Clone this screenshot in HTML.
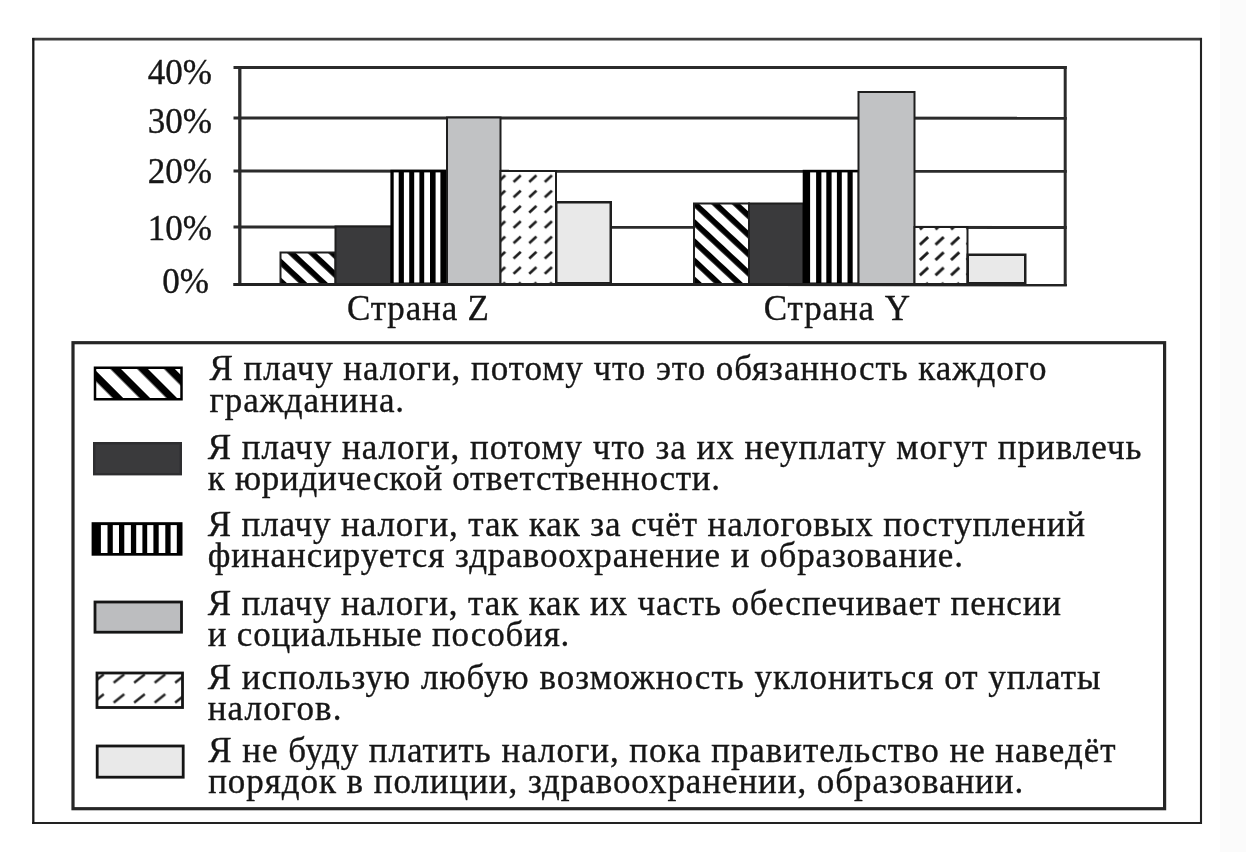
<!DOCTYPE html>
<html lang="ru">
<head>
<meta charset="utf-8">
<title>Chart</title>
<style>
  html, body { margin: 0; padding: 0; background: #ffffff; }
  body { width: 1246px; height: 852px; overflow: hidden; position: relative; }
  svg { position: absolute; left: 0; top: 0; display: block; filter: blur(0.4px); }
  text { font-family: "Liberation Serif", serif; fill: #161616; stroke: #161616; stroke-width: 0.35px; }
</style>
</head>
<body>
<svg width="1246" height="852" viewBox="0 0 1246 852">
  <defs>
    <!-- thick diagonal stripes "\" -->
    <pattern id="pDiagZ" patternUnits="userSpaceOnUse" width="20" height="14" y="-2.6" patternTransform="rotate(43)">
      <rect width="20" height="14" fill="#ffffff"/>
      <rect width="20" height="5.8" fill="#000"/>
    </pattern>
    <pattern id="pDiagY" patternUnits="userSpaceOnUse" width="20" height="14" y="8.36" patternTransform="rotate(43)">
      <rect width="20" height="14" fill="#ffffff"/>
      <rect width="20" height="5.8" fill="#000"/>
    </pattern>
    <!-- small dashes -->
    <pattern id="pDash" patternUnits="userSpaceOnUse" width="15.6" height="15.3" x="509.4" y="170.8">
      <rect width="15.6" height="15.3" fill="#ffffff"/>
      <path d="M4.2,11.2 L11.4,4.6" stroke="#1c1c1c" stroke-width="2.7"/>
    </pattern>
    <pattern id="pDash2" patternUnits="userSpaceOnUse" width="15.6" height="15.3" x="916.2" y="233.1">
      <rect width="15.6" height="15.3" fill="#ffffff"/>
      <path d="M3.7,11.5 L11.9,3.9" stroke="#1c1c1c" stroke-width="2.9"/>
    </pattern>
    <pattern id="pDiagL" patternUnits="userSpaceOnUse" width="20" height="19" y="4.3" patternTransform="rotate(45)">
      <rect width="20" height="19" fill="#ffffff"/>
      <rect width="20" height="7.5" fill="#000"/>
    </pattern>
    <pattern id="pDashL" patternUnits="userSpaceOnUse" width="20.5" height="19.9" x="108.75" y="688.45">
      <rect width="20.5" height="19.9" fill="#ffffff"/>
      <path d="M4.95,14.15 L15.55,5.75" stroke="#222" stroke-width="2.5"/>
    </pattern>
  </defs>

  <!-- right faint strip -->
  <rect x="1220" y="0" width="26" height="852" fill="#fbfbfb"/>

  <!-- outer frame -->
  <g fill="none">
    <line x1="32.2" y1="39.1" x2="1202" y2="39.1" stroke="#3c3c3c" stroke-width="2.8"/>
    <line x1="32.2" y1="823" x2="1202" y2="823" stroke="#222" stroke-width="2.2"/>
    <line x1="33.3" y1="38" x2="33.3" y2="824" stroke="#181818" stroke-width="2.3"/>
    <line x1="1201" y1="38" x2="1201" y2="824" stroke="#222" stroke-width="2.1"/>
  </g>

  <!-- plot area grid -->
  <g stroke="#2b2b2b" stroke-width="3" fill="none">
    <line x1="233.5" y1="67.4" x2="1066.8" y2="67.5"/>
    <line x1="233.5" y1="117.9" x2="1066.8" y2="118.2"/>
    <line x1="233.5" y1="171.1" x2="1066.8" y2="171.3"/>
    <line x1="233.5" y1="227.1" x2="1066.8" y2="227.4"/>
    <line x1="233.5" y1="284.4" x2="1066.8" y2="284.7"/>
    <line x1="239.8" y1="66" x2="239.8" y2="286" stroke-width="3.3"/>
    <line x1="1065.2" y1="66" x2="1065.2" y2="286"/>
  </g>

  <!-- bars: country Z -->
  <g stroke="#1e1e1e" stroke-width="2">
    <rect x="280.5" y="252.5" width="55" height="31.5" fill="url(#pDiagZ)"/>
    <rect x="335.5" y="226.5" width="56" height="57.5" fill="#3a3a3c"/>
    <g stroke="none"><rect x="390.4" y="169.8" width="57.3" height="114.2" fill="#000"/><rect x="393.7" y="172.4" width="5.0" height="110.1" fill="#fff"/><rect x="403.9" y="172.4" width="5.3" height="110.1" fill="#fff"/><rect x="414.2" y="172.4" width="5.2" height="110.1" fill="#fff"/><rect x="424.2" y="172.4" width="5.8" height="110.1" fill="#fff"/><rect x="435.6" y="172.4" width="4.8" height="110.1" fill="#fff"/></g>
    <rect x="447" y="117.5" width="53.5" height="166.5" fill="#c1c2c4"/>
    <rect x="500.5" y="171" width="55.5" height="113" fill="url(#pDash)"/>
    <rect x="556.25" y="202.25" width="54.5" height="81" fill="#e9e9e9" stroke-width="2.5"/>
  </g>
  <!-- bars: country Y -->
  <g stroke="#1e1e1e" stroke-width="2">
    <rect x="694" y="203.5" width="55" height="80.5" fill="url(#pDiagY)"/>
    <rect x="749" y="203.5" width="54.5" height="80.5" fill="#3a3a3c"/>
    <g stroke="none"><rect x="802.7" y="169.8" width="57.1" height="114.2" fill="#000"/><rect x="810.1" y="172.4" width="6.0" height="110.1" fill="#fff"/><rect x="821.4" y="172.4" width="4.9" height="110.1" fill="#fff"/><rect x="831.6" y="172.4" width="5.3" height="110.1" fill="#fff"/><rect x="841.8" y="172.4" width="5.7" height="110.1" fill="#fff"/><rect x="852.7" y="172.4" width="5.0" height="110.1" fill="#fff"/></g>
    <rect x="858.5" y="92" width="56" height="192" fill="#c1c2c4"/>
    <rect x="914.5" y="227" width="53" height="57" fill="url(#pDash2)"/>
    <rect x="967.75" y="254.75" width="57.5" height="28.5" fill="#e9e9e9" stroke-width="2.5"/>
  </g>

  <!-- baseline drawn over bars -->
  <line x1="233.5" y1="284.4" x2="1066.8" y2="284.7" stroke="#222" stroke-width="3"/>

  <!-- axis labels -->
  <g font-size="35" text-anchor="end">
    <text x="212" y="84">40%</text>
    <text x="212" y="132.8">30%</text>
    <text x="212" y="183">20%</text>
    <text x="212" y="240">10%</text>
    <text x="209" y="292.6">0%</text>
  </g>
  <g font-size="35">
    <text x="347" y="320" textLength="142" lengthAdjust="spacing">Страна Z</text>
    <text x="763.7" y="320.2" textLength="146.3" lengthAdjust="spacing">Страна Y</text>
  </g>

  <!-- legend frame -->
  <rect x="73" y="342.7" width="1091.6" height="466" fill="none" stroke="#262626" stroke-width="3.2"/>

  <!-- legend swatches -->
  <g stroke="#1e1e1e" stroke-width="2">
    <rect x="95" y="367.75" width="86.5" height="31.5" fill="url(#pDiagL)" stroke-width="2.5" stroke="#000"/>
    <rect x="94.2" y="443.2" width="86.6" height="31" fill="#3a3a3c" stroke="#2e2e30" stroke-width="2.4"/>
    <g stroke="none"><rect x="91.6" y="522.2" width="90.9" height="33.5" fill="#000"/><rect x="100.9" y="525.1" width="6.6" height="27.9" fill="#fff"/><rect x="112.8" y="525.1" width="6.2" height="27.9" fill="#fff"/><rect x="124.3" y="525.1" width="6.6" height="27.9" fill="#fff"/><rect x="136.2" y="525.1" width="6.2" height="27.9" fill="#fff"/><rect x="147.2" y="525.1" width="6.2" height="27.9" fill="#fff"/><rect x="158.7" y="525.1" width="6.6" height="27.9" fill="#fff"/><rect x="170.6" y="525.1" width="6.2" height="27.9" fill="#fff"/></g>
    <rect x="95" y="602" width="86.5" height="30.2" fill="#bcbdbf" stroke="#151515" stroke-width="2.8"/>
    <rect x="97" y="673" width="85.5" height="34.5" fill="url(#pDashL)" stroke="#151515" stroke-width="2.8"/>
    <rect x="97.2" y="746" width="86" height="31.2" fill="#e9e9e9" stroke="#151515" stroke-width="2.8"/>
  </g>

  <!-- legend text -->
  <g font-size="35">
    <text x="209.5" y="380" textLength="837" lengthAdjust="spacing">Я плачу налоги, потому что это обязанность каждого</text>
    <text x="209.5" y="412" textLength="194.6" lengthAdjust="spacing">гражданина.</text>
    <text x="207.7" y="458.5" textLength="933.8" lengthAdjust="spacing">Я плачу налоги, потому что за их неуплату могут привлечь</text>
    <text x="207.7" y="490.1" textLength="512.3" lengthAdjust="spacing">к юридической ответственности.</text>
    <text x="207.7" y="536.4" textLength="877.3" lengthAdjust="spacing">Я плачу налоги, так как за счёт налоговых поступлений</text>
    <text x="207.7" y="566.6" textLength="755.3" lengthAdjust="spacing">финансируется здравоохранение и образование.</text>
    <text x="207.7" y="614.6" textLength="853.3" lengthAdjust="spacing">Я плачу налоги, так как их часть обеспечивает пенсии</text>
    <text x="207.7" y="645.9" textLength="361.6" lengthAdjust="spacing">и социальные пособия.</text>
    <text x="207.7" y="689.2" textLength="892.8" lengthAdjust="spacing">Я использую любую возможность уклониться от уплаты</text>
    <text x="207.7" y="719.8" textLength="133.8" lengthAdjust="spacing">налогов.</text>
    <text x="208.2" y="761.6" textLength="907.3" lengthAdjust="spacing">Я не буду платить налоги, пока правительство не наведёт</text>
    <text x="208.2" y="792.6" textLength="815" lengthAdjust="spacing">порядок в полиции, здравоохранении, образовании.</text>
  </g>
</svg>
</body>
</html>
